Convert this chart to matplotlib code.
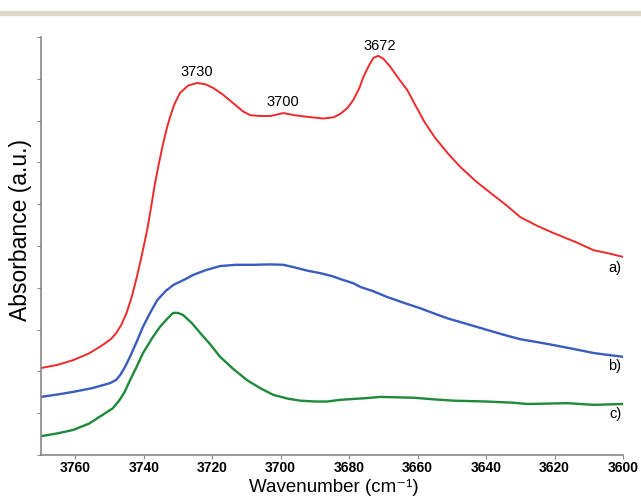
import matplotlib
matplotlib.use("Agg")
import matplotlib.pyplot as plt
from matplotlib.patches import Rectangle

plt.rcParams['font.family'] = ['Liberation Sans', 'DejaVu Sans']

# spectrum a) (red)
wn_a = [3770, 3765, 3760.6, 3756, 3752, 3749.5, 3748, 3746.5, 3745, 3743.5, 3742, 3740.5,
        3739, 3737.8, 3736.7, 3735.5, 3734.3, 3733.3, 3732.3, 3731, 3729.4, 3727, 3724.4,
        3722, 3719.7, 3717, 3713.9, 3711, 3708.9, 3706, 3703, 3699.2, 3696, 3692.2,
        3687.5, 3684.5, 3682.6, 3680.5, 3678.8, 3677, 3675.8, 3674.2, 3672.9, 3671.5,
        3670, 3668, 3665.5, 3663, 3661, 3658, 3655, 3651, 3647.5, 3643, 3638.7, 3634,
        3630, 3625, 3620.3, 3614, 3608.6, 3604, 3600]
abs_a = [2.08, 2.16, 2.27, 2.43, 2.63, 2.78, 2.92, 3.12, 3.40, 3.78, 4.26, 4.80,
         5.38, 5.95, 6.50, 7.00, 7.46, 7.80, 8.09, 8.40, 8.66, 8.84, 8.90,
         8.87, 8.78, 8.63, 8.42, 8.22, 8.13, 8.11, 8.11, 8.18, 8.13, 8.09,
         8.05, 8.08, 8.16, 8.30, 8.49, 8.78, 9.05, 9.32, 9.50, 9.55,
         9.48, 9.29, 9.00, 8.73, 8.42, 7.97, 7.60, 7.20, 6.89, 6.55, 6.27, 5.97,
         5.69, 5.48, 5.31, 5.10, 4.90, 4.82, 4.74]

# spectrum b) (blue)
wn_b = [3770, 3765, 3760.6, 3755, 3749.8, 3748, 3746.9, 3745.5, 3744, 3742, 3740.2,
        3738, 3736, 3733.5, 3731.3, 3728, 3725.5, 3722, 3717.7, 3713, 3708, 3703,
        3699.2, 3696, 3692.2, 3688.4, 3685, 3682.6, 3678.8, 3676.7, 3673, 3668.9,
        3664, 3659.2, 3655, 3651.3, 3645, 3639.6, 3635, 3630, 3625, 3620.3, 3614,
        3608.6, 3604, 3600]
abs_b = [1.39, 1.45, 1.51, 1.60, 1.72, 1.80, 1.91, 2.10, 2.35, 2.72, 3.07,
         3.42, 3.71, 3.93, 4.07, 4.20, 4.31, 4.42, 4.52, 4.55, 4.55, 4.56,
         4.55, 4.49, 4.41, 4.35, 4.28, 4.21, 4.11, 4.02, 3.92, 3.78,
         3.64, 3.51, 3.38, 3.27, 3.12, 2.99, 2.88, 2.77, 2.70, 2.63, 2.53,
         2.44, 2.39, 2.35]

# spectrum c) (green)
wn_c = [3770, 3765, 3760.6, 3756, 3752, 3749, 3747, 3745.5, 3744, 3742, 3740.2,
        3737.5, 3735.2, 3733, 3731.4, 3730, 3728.5, 3726, 3723.5, 3720.5, 3717.7,
        3714, 3709.8, 3706, 3702.2, 3698, 3694.3, 3690, 3686.4, 3682.6, 3678.8,
        3675, 3670.9, 3666, 3661.2, 3655, 3649.5, 3640, 3632, 3627.9, 3622,
        3616.2, 3608.6, 3600]
abs_c = [0.45, 0.52, 0.60, 0.75, 0.96, 1.12, 1.32, 1.52, 1.79, 2.12, 2.44,
         2.80, 3.07, 3.27, 3.40, 3.40, 3.35, 3.16, 2.92, 2.64, 2.35,
         2.07, 1.79, 1.60, 1.44, 1.35, 1.30, 1.28, 1.28, 1.32, 1.34,
         1.36, 1.39, 1.38, 1.37, 1.33, 1.30, 1.28, 1.25, 1.22, 1.23,
         1.24, 1.20, 1.22]

peak_labels = ["3730", "3700", "3672"]
peak_pos = [(3724.5, 9.0), (3699.5, 8.28), (3671, 9.62)]
curve_labels = ["a)", "b)", "c)"]
curve_label_y = [4.47, 2.13, 0.98]

fig = plt.figure(figsize=(6.41, 4.97), dpi=100)
fig.patches.append(Rectangle((0, 1 - 15/497), 1, 4/497, transform=fig.transFigure,
                             color='#dcd9c8', zorder=0))
ax = fig.add_axes([41/641, 1 - 455/497, (623 - 41)/641, (455 - 37)/497])

ax.plot(wn_a, abs_a, color='#f02a2a', lw=1.4)
ax.plot(wn_b, abs_b, color='#3a5cbf', lw=1.7)
ax.plot(wn_c, abs_c, color='#1e8a3a', lw=1.7)

for t, (x, y) in zip(peak_labels, peak_pos):
    ax.text(x, y, t, ha='center', va='bottom', fontsize=10.5)
for t, y in zip(curve_labels, curve_label_y):
    ax.text(3600.5, y, t, ha='right', va='center', fontsize=10.5)

ax.set_xlim(3770, 3600)
ax.set_ylim(0, 10)
ax.set_xticks(range(3760, 3599, -20))
ax.set_yticks(range(0, 11))
ax.set_yticklabels([])
for lab in ax.get_xticklabels():
    lab.set_fontweight('bold')
ax.tick_params(axis='x', labelsize=10, length=3, color='#888888', pad=1.5)
ax.tick_params(axis='y', length=3, color='#888888')
for s in ['top', 'right']:
    ax.spines[s].set_visible(False)
for s in ['left', 'bottom']:
    ax.spines[s].set_color('#888888')
    ax.spines[s].set_linewidth(1.2)

fig.text(334/641, 1/497, 'Wavenumber (cm\u207b\u00b9)', fontsize=13.5,
         ha='center', va='bottom')
fig.text(21/641, 1 - 230/497, 'Absorbance (a.u.)', fontsize=16.5,
         rotation=90, ha='center', va='center')

fig.savefig('out.png', dpi=100)
